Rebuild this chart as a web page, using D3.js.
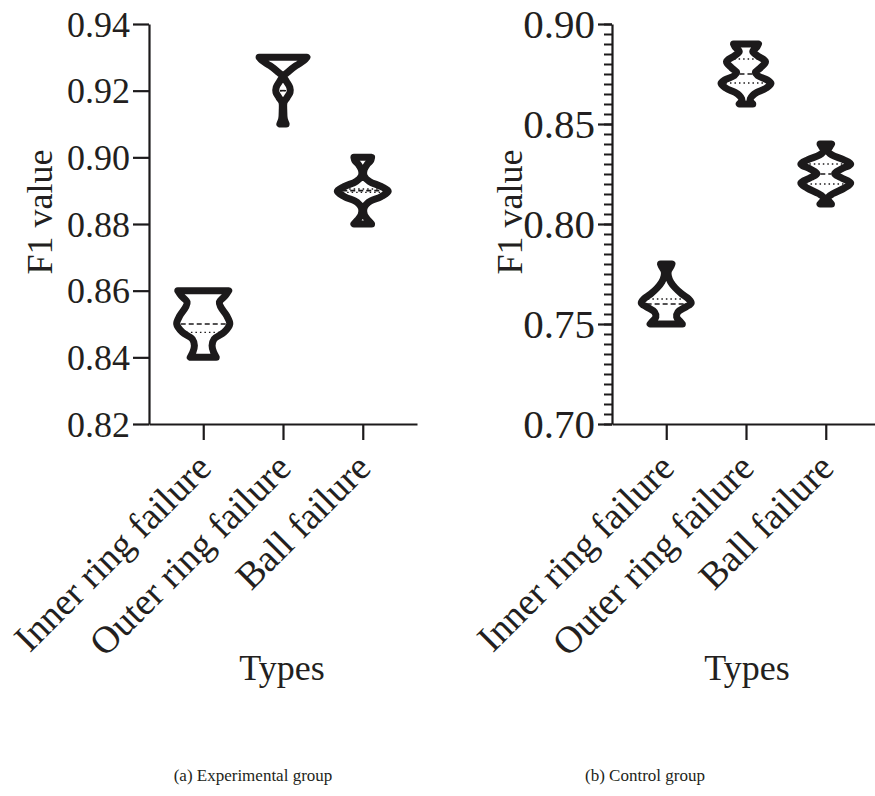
<!DOCTYPE html>
<html><head><meta charset="utf-8">
<script src="https://cdn.jsdelivr.net/npm/d3@7"></script>
<style>
body{margin:0;background:#fff}
svg{display:block}
text{font-family:"Liberation Serif","Times New Roman",serif;fill:#231f20}
</style>
</head><body>
<svg id="c" width="875" height="796"></svg>
<script>
// ---------- data ----------
const categories = ["Inner ring failure", "Outer ring failure", "Ball failure"];
const expTicks = [0.82, 0.84, 0.86, 0.88, 0.90, 0.92, 0.94];
const ctrlTicks = [0.70, 0.75, 0.80, 0.85, 0.90];

// violin density profiles: [F1 value, relative density]
const expInner = [[0.8400,0.50],[0.8415,0.40],[0.8435,0.34],[0.8455,0.42],[0.8475,0.80],[0.8500,1.02],[0.8525,0.90],[0.8550,0.68],[0.8565,0.62],[0.8585,0.85],[0.8600,0.98]];
const expOuter = [[0.9100,0.12],[0.9115,0.05],[0.9140,0.03],[0.9165,0.04],[0.9180,0.16],[0.9195,0.27],[0.9210,0.26],[0.9228,0.13],[0.9243,0.03],[0.9258,0.22],[0.9275,0.5],[0.9290,0.8],[0.9300,0.92]];
const expBall = [[0.8800,0.34],[0.8812,0.2],[0.8828,0.06],[0.8848,0.05],[0.8865,0.22],[0.8882,0.7],[0.8898,0.98],[0.8912,0.72],[0.8928,0.25],[0.8945,0.05],[0.8962,0.05],[0.8978,0.16],[0.8990,0.3],[0.9000,0.34]];
const ctrlInner = [[0.7500,0.62],[0.7515,0.52],[0.7535,0.40],[0.7560,0.45],[0.7585,0.75],[0.7605,0.96],[0.7625,0.86],[0.7650,0.6],[0.7680,0.35],[0.7710,0.17],[0.7740,0.08],[0.7765,0.08],[0.7785,0.17],[0.7800,0.22]];
const ctrlOuter = [[0.8600,0.26],[0.8622,0.16],[0.8650,0.32],[0.8680,0.78],[0.8703,0.96],[0.8720,0.82],[0.8742,0.45],[0.8758,0.36],[0.8780,0.55],[0.8812,0.75],[0.8840,0.45],[0.8862,0.26],[0.8885,0.42],[0.8900,0.48]];
const ctrlBall = [[0.8100,0.22],[0.8115,0.12],[0.8132,0.08],[0.8152,0.28],[0.8180,0.72],[0.8205,0.96],[0.8232,0.58],[0.8252,0.34],[0.8275,0.6],[0.8300,0.96],[0.8322,0.68],[0.8345,0.24],[0.8365,0.08],[0.8385,0.15],[0.8400,0.22]];

// medians and quartiles [q1, median, q3]
const expStats = [[0.8475,0.850,0.860],[0.920,0.920,0.920],[0.8895,0.890,0.8905]];
const ctrlStats = [[0.750,0.760,0.7625],[0.8705,0.875,0.8825],[0.820,0.825,0.830]];

const expProfiles = [expInner, expOuter, expBall];
const ctrlProfiles = [ctrlInner, ctrlOuter, ctrlBall];

// ---------- drawing ----------
const svg = d3.select("#c");
const INK = "#1c1a1b";

const panels = [
  {left:149, right:417, top:24, bottom:424, domain:[0.82,0.94], ticks:expTicks, fmt:d3.format(".2f"), tickFont:36,
   profiles:expProfiles, stats:expStats, minor:false, ylabX:52, typesX:282, caption:"(a) Experimental group", capX:253},
  {left:612, right:880, top:24, bottom:424, domain:[0.70,0.90], ticks:ctrlTicks, fmt:d3.format(".2f"), tickFont:41,
   profiles:ctrlProfiles, stats:ctrlStats, minor:true, ylabX:522, typesX:747, caption:"(b) Control group", capX:645}
];

const widthScale = d3.scaleLinear().domain([0,1]).range([0,26]);

function interp(profile, v){
  for(let i=0;i<profile.length-1;i++){
    const a=profile[i], b=profile[i+1];
    if(v>=a[0] && v<=b[0]){ const t=(v-a[0])/(b[0]-a[0]||1); return a[1]+t*(b[1]-a[1]); }
  }
  return v<profile[0][0]?profile[0][1]:profile[profile.length-1][1];
}

panels.forEach(p=>{
  const g = svg.append("g");
  const y = d3.scaleLinear().domain(p.domain).range([p.bottom,p.top]);
  const x = d3.scalePoint().domain(categories).range([p.left,p.right]).padding(0.68);

  if(p.minor){
    const minorVals = y.ticks(40);
    g.append("g").attr("transform",`translate(${p.left},0)`)
      .call(d3.axisLeft(y).tickValues(minorVals).tickSize(8).tickSizeOuter(0).tickFormat(""))
      .call(s=>s.select(".domain").remove())
      .call(s=>s.selectAll("line").attr("stroke",INK).attr("stroke-width",2));
  }
  const ya = g.append("g").attr("transform",`translate(${p.left},0)`)
    .call(d3.axisLeft(y).tickValues(p.ticks).tickSize(p.minor?14:16).tickSizeOuter(0).tickPadding(3).tickFormat(p.fmt));
  ya.select(".domain").attr("stroke",INK).attr("stroke-width",2.2);
  ya.selectAll("line").attr("stroke",INK).attr("stroke-width",2.2);
  ya.selectAll("text").attr("font-size",p.tickFont).attr("font-family",'"Liberation Serif","Times New Roman",serif').attr("fill",INK).attr("dy","0.34em");

  const xa = g.append("g").attr("transform",`translate(0,${p.bottom})`)
    .call(d3.axisBottom(x).tickSize(16).tickSizeOuter(0).tickFormat(""));
  xa.select(".domain").attr("stroke",INK).attr("stroke-width",2.2);
  xa.selectAll("line").attr("stroke",INK).attr("stroke-width",2.2);

  categories.forEach(c=>{
    g.append("text").attr("transform",`translate(${x(c)+10},${p.bottom+46}) rotate(-45)`)
      .attr("text-anchor","end").attr("font-size",38).text(c);
  });

  g.append("text").attr("transform",`translate(${p.ylabX},${(p.top+p.bottom)/2-12}) rotate(-90)`)
    .attr("text-anchor","middle").attr("font-size",36).text("F1 value");
  g.append("text").attr("x",p.typesX).attr("y",680).attr("text-anchor","middle").attr("font-size",36).text("Types");
  g.append("text").attr("x",p.capX).attr("y",781).attr("text-anchor","middle").attr("font-size",17).text(p.caption);

  categories.forEach((c,i)=>{
    const cx = x(c);
    const prof = p.profiles[i];
    const area = d3.area()
      .y(d=>y(d[0]))
      .x0(d=>cx-widthScale(d[1]))
      .x1(d=>cx+widthScale(d[1]))
      .curve(d3.curveCatmullRom.alpha(0.5));
    g.append("path").attr("d",area(prof))
      .attr("fill","#fff").attr("stroke",INK).attr("stroke-width",7).attr("stroke-linejoin","round");
    const st = p.stats[i];
    st.forEach((v,k)=>{
      const hw = Math.max(0, widthScale(interp(prof,v))-4);
      if(hw<=0.5) return;
      g.append("line").attr("x1",cx-hw).attr("x2",cx+hw).attr("y1",y(v)).attr("y2",y(v))
        .attr("stroke",INK).attr("stroke-width",k===1?1.6:1.4)
        .attr("stroke-dasharray",k===1?"5,3":"1.5,3");
    });
  });
});
</script>
</body></html>
